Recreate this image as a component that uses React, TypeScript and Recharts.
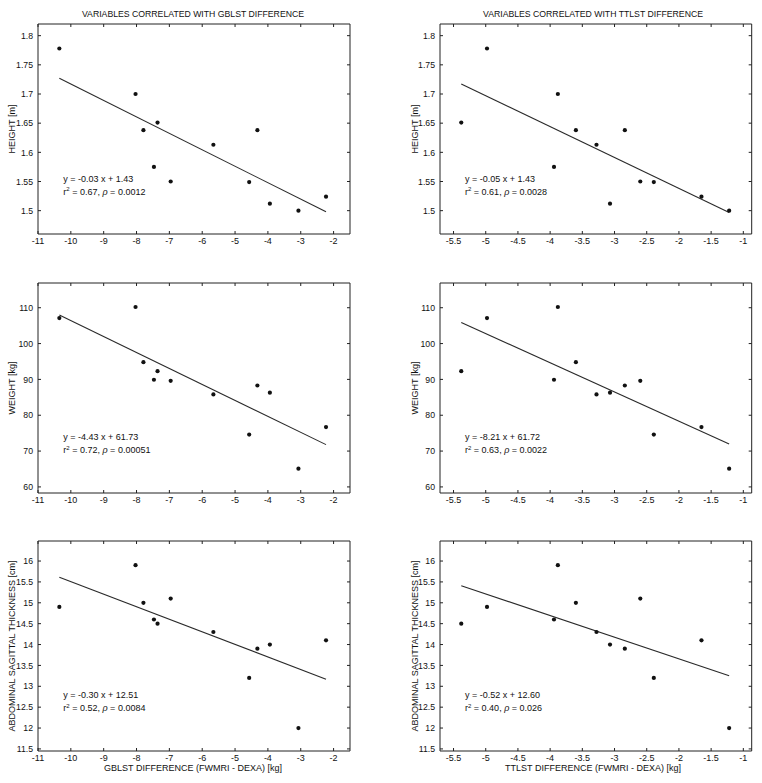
import React from 'react';
import { ScatterChart, Scatter, XAxis, YAxis } from 'recharts';

// subjects, same order in every array
const gblst = [-10.35, -8.03, -7.79, -7.36, -7.47, -6.96, -5.66, -4.32, -4.57, -3.94, -3.07, -2.23];
const ttlst = [-4.98, -3.88, -3.6, -5.38, -3.94, -2.6, -3.28, -2.84, -2.39, -3.07, -1.22, -1.65];
const height = [1.778, 1.7, 1.638, 1.651, 1.575, 1.55, 1.613, 1.638, 1.549, 1.512, 1.5, 1.524];
const weight = [107.1, 110.2, 94.8, 92.3, 89.9, 89.6, 85.8, 88.3, 74.6, 86.3, 65.1, 76.7];
const abdominal = [14.9, 15.9, 15.0, 14.5, 14.6, 15.1, 14.3, 13.9, 13.2, 14.0, 12.0, 14.1];

// regression line end points
const fitXG = [-10.35, -2.23];
const fitXT = [-5.38, -1.22];
const fitHeightG = [1.727, 1.498];
const fitHeightT = [1.717, 1.497];
const fitWeightG = [108.0, 71.8];
const fitWeightT = [105.9, 72.0];
const fitAbdG = [15.61, 13.17];
const fitAbdT = [15.41, 13.25];

const xTicksG = [-11, -10, -9, -8, -7, -6, -5, -4, -3, -2];
const xTicksT = [-5.5, -5, -4.5, -4, -3.5, -3, -2.5, -2, -1.5, -1];
const heightTicks = [1.5, 1.55, 1.6, 1.65, 1.7, 1.75, 1.8];
const weightTicks = [60, 70, 80, 90, 100, 110];
const abdTicks = [11.5, 12, 12.5, 13, 13.5, 14, 14.5, 15, 15.5, 16];

const titles = ['VARIABLES CORRELATED WITH GBLST DIFFERENCE', 'VARIABLES CORRELATED WITH TTLST DIFFERENCE'];
const xLabels = ['GBLST DIFFERENCE (FWMRI - DEXA) [kg]', 'TTLST DIFFERENCE (FWMRI - DEXA) [kg]'];
const yLabels = ['HEIGHT [m]', 'WEIGHT [kg]', 'ABDOMINAL SAGITTAL THICKNESS [cm]'];
const eqLines = [
  ['-0.03 x + 1.43', '0.67', '0.0012'],
  ['-0.05 x + 1.43', '0.61', '0.0028'],
  ['-4.43 x + 61.73', '0.72', '0.00051'],
  ['-8.21 x + 61.72', '0.63', '0.0022'],
  ['-0.30 x + 12.51', '0.52', '0.0084'],
  ['-0.52 x + 12.60', '0.40', '0.026'],
];

const INK = '#222';
const TEXT = '#111';
const FONT = '"Liberation Sans", Arial, Helvetica, sans-serif';
const TICK = 3;

const bottomTick = (p: any) => (
  <g>
    <line x1={p.x} x2={p.x} y1={p.y} y2={p.y - TICK} stroke={INK} />
    <text x={p.x} y={p.y + 10} textAnchor="middle" fontSize={9} fill={TEXT} fontFamily={FONT}>
      {String(p.payload.value)}
    </text>
  </g>
);
const leftTick = (p: any) => (
  <g>
    <line x1={p.x} x2={p.x + TICK} y1={p.y} y2={p.y} stroke={INK} />
    <text x={p.x - 5} y={p.y + 3.2} textAnchor="end" fontSize={8.7} fill={TEXT} fontFamily={FONT}>
      {String(p.payload.value)}
    </text>
  </g>
);
const topTick = (p: any) => <line x1={p.x} x2={p.x} y1={p.y} y2={p.y + TICK} stroke={INK} />;
const rightTick = (p: any) => <line x1={p.x} x2={p.x - TICK} y1={p.y} y2={p.y} stroke={INK} />;

const dot = (p: any) => <circle cx={p.cx} cy={p.cy} r={2.1} fill="#111" />;
const noDot = () => <g />;

const COLS = [
  { svgLeft: 0, boxLeft: 38, boxRight: 350 },
  { svgLeft: 381, boxLeft: 440, boxRight: 751.7 },
];
const ROWS = [24.3, 282.7, 541];

interface PanelProps {
  col: number;
  row: number;
  xs: number[];
  ys: number[];
  fitX: number[];
  fitY: number[];
  xDomain: [number, number];
  yDomain: [number, number];
  xTicks: number[];
  yTicks: number[];
}

const Panel: React.FC<PanelProps> = ({ col, row, xs, ys, fitX, fitY, xDomain, yDomain, xTicks, yTicks }) => {
  const c = COLS[col];
  const boxTop = ROWS[row];
  const pts = xs.map((x, i) => ({ x, y: ys[i] }));
  const fit = fitX.map((x, i) => ({ x, y: fitY[i] }));
  const axisLine = { stroke: INK, strokeWidth: 1 };
  const leftW = c.boxLeft - c.svgLeft;
  const rightW = c.svgLeft + 381 - c.boxRight;
  return (
    <div style={{ position: 'absolute', left: c.svgLeft, top: boxTop - 20 }}>
      <ScatterChart width={381} height={250} margin={{ top: 0, bottom: 0, left: 0, right: 0 }}>
        <XAxis xAxisId="b" type="number" dataKey="x" domain={xDomain} ticks={xTicks} allowDataOverflow
          height={20} tickSize={0} tickMargin={0} interval={0} axisLine={axisLine} tickLine={false} tick={bottomTick} />
        <XAxis xAxisId="t" orientation="top" type="number" dataKey="x" domain={xDomain} ticks={xTicks} allowDataOverflow
          height={20} tickSize={0} tickMargin={0} interval={0} axisLine={axisLine} tickLine={false} tick={topTick} />
        <YAxis yAxisId="l" type="number" dataKey="y" domain={yDomain} ticks={yTicks} allowDataOverflow
          width={leftW} tickSize={0} tickMargin={0} interval={0} axisLine={axisLine} tickLine={false} tick={leftTick} />
        <YAxis yAxisId="r" orientation="right" type="number" dataKey="y" domain={yDomain} ticks={yTicks} allowDataOverflow
          width={rightW} tickSize={0} tickMargin={0} interval={0} axisLine={axisLine} tickLine={false} tick={rightTick} />
        <Scatter xAxisId="b" yAxisId="l" data={fit} line={{ stroke: '#2a2a2a', strokeWidth: 1.1 }} shape={noDot} isAnimationActive={false} />
        <Scatter xAxisId="t" yAxisId="r" data={pts} shape={dot} isAnimationActive={false} />
      </ScatterChart>
    </div>
  );
};

const textBase: React.CSSProperties = { position: 'absolute', fontFamily: FONT, color: TEXT, whiteSpace: 'nowrap' };

const Equation: React.FC<{ left: number; top: number; lines: string[] }> = ({ left, top, lines }) => (
  <div style={{ ...textBase, left, top, fontSize: 9, lineHeight: '12.7px' }}>
    <div>y = {lines[0]}</div>
    <div>
      r<span style={{ fontSize: 6, position: 'relative', top: -3.5 }}>2</span> = {lines[1]}, <i>ρ</i> = {lines[2]}
    </div>
  </div>
);

export default function App() {
  const eqLeft = [63.3, 465];
  const eqTop = [173, 431.3, 689.3];
  const yLabelX = [11.5, 414.5];
  const centers = [193, 593];
  return (
    <div style={{ position: 'absolute', left: 0, top: 0, width: 762, height: 783, background: '#fff', overflow: 'hidden' }}>
      <Panel col={0} row={0} xs={gblst} ys={height} fitX={fitXG} fitY={fitHeightG} xDomain={[-11, -1.5]} yDomain={[1.46, 1.82]} xTicks={xTicksG} yTicks={heightTicks} />
      <Panel col={1} row={0} xs={ttlst} ys={height} fitX={fitXT} fitY={fitHeightT} xDomain={[-5.71, -0.87]} yDomain={[1.46, 1.82]} xTicks={xTicksT} yTicks={heightTicks} />
      <Panel col={0} row={1} xs={gblst} ys={weight} fitX={fitXG} fitY={fitWeightG} xDomain={[-11, -1.5]} yDomain={[58.3, 116.9]} xTicks={xTicksG} yTicks={weightTicks} />
      <Panel col={1} row={1} xs={ttlst} ys={weight} fitX={fitXT} fitY={fitWeightT} xDomain={[-5.71, -0.87]} yDomain={[58.3, 116.9]} xTicks={xTicksT} yTicks={weightTicks} />
      <Panel col={0} row={2} xs={gblst} ys={abdominal} fitX={fitXG} fitY={fitAbdG} xDomain={[-11, -1.5]} yDomain={[11.45, 16.48]} xTicks={xTicksG} yTicks={abdTicks} />
      <Panel col={1} row={2} xs={ttlst} ys={abdominal} fitX={fitXT} fitY={fitAbdT} xDomain={[-5.71, -0.87]} yDomain={[11.45, 16.48]} xTicks={xTicksT} yTicks={abdTicks} />

      {titles.map((t, i) => (
        <div key={t} style={{ ...textBase, left: centers[i], top: 14.3, fontSize: 8.7, transform: 'translate(-50%, -50%)' }}>{t}</div>
      ))}
      {xLabels.map((t, i) => (
        <div key={t} style={{ ...textBase, left: centers[i], top: 768, fontSize: 9, transform: 'translate(-50%, -50%)' }}>{t}</div>
      ))}
      {ROWS.map((top, r) =>
        [0, 1].map((c) => (
          <div key={`${r}-${c}`} style={{ ...textBase, left: yLabelX[c], top: top + 105, fontSize: 9, transform: 'translate(-50%, -50%) rotate(-90deg)' }}>
            {yLabels[r]}
          </div>
        ))
      )}
      {eqLines.map((l, i) => (
        <Equation key={i} left={eqLeft[i % 2]} top={eqTop[Math.floor(i / 2)]} lines={l} />
      ))}
    </div>
  );
}
